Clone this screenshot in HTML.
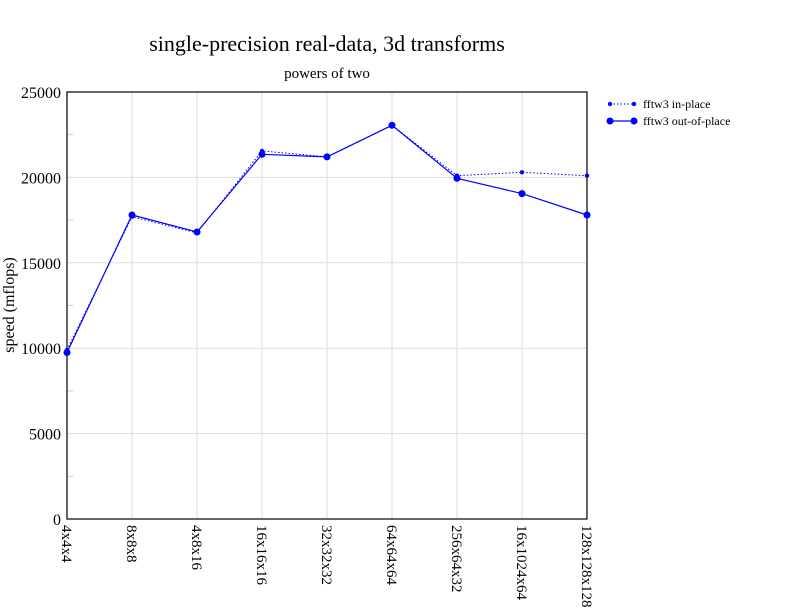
<!DOCTYPE html>
<html><head><style>body{margin:0;background:#fff}svg{display:block}</style></head><body>
<svg width="792" height="612" xmlns="http://www.w3.org/2000/svg" font-family="Liberation Serif, serif">
<rect width="792" height="612" fill="#fff"/>
<text x="327" y="51" font-size="22" text-anchor="middle">single-precision real-data, 3d transforms</text>
<text x="327" y="78" font-size="15" text-anchor="middle">powers of two</text>
<g stroke="#ddd" stroke-width="1">
<line x1="132" y1="92" x2="132" y2="519"/><line x1="197" y1="92" x2="197" y2="519"/><line x1="262" y1="92" x2="262" y2="519"/><line x1="327" y1="92" x2="327" y2="519"/><line x1="392" y1="92" x2="392" y2="519"/><line x1="457" y1="92" x2="457" y2="519"/><line x1="522" y1="92" x2="522" y2="519"/>
<line x1="67" y1="433.6" x2="587" y2="433.6"/><line x1="67" y1="348.2" x2="587" y2="348.2"/><line x1="67" y1="262.8" x2="587" y2="262.8"/><line x1="67" y1="177.4" x2="587" y2="177.4"/>
</g>
<g stroke="#ccc"><line x1="67" y1="476.3" x2="73" y2="476.3"/><line x1="67" y1="390.9" x2="73" y2="390.9"/><line x1="67" y1="305.5" x2="73" y2="305.5"/><line x1="67" y1="220.1" x2="73" y2="220.1"/><line x1="67" y1="134.7" x2="73" y2="134.7"/></g>
<rect x="67" y="92" width="520" height="427" fill="none" stroke="#000" stroke-width="1.2"/>
<g font-size="16" text-anchor="end">
<text x="61" y="525">0</text><text x="61" y="439.6">5000</text><text x="61" y="354.2">10000</text><text x="61" y="268.8">15000</text><text x="61" y="183.4">20000</text><text x="61" y="98">25000</text>
</g>
<text transform="translate(14,305) rotate(-90)" font-size="16" text-anchor="middle">speed (mflops)</text>
<g font-size="15">
<text transform="translate(62,525) rotate(90)">4x4x4</text>
<text transform="translate(127,525) rotate(90)">8x8x8</text>
<text transform="translate(192,525) rotate(90)">4x8x16</text>
<text transform="translate(257,525) rotate(90)">16x16x16</text>
<text transform="translate(322,525) rotate(90)">32x32x32</text>
<text transform="translate(387,525) rotate(90)">64x64x64</text>
<text transform="translate(452,525) rotate(90)">256x64x32</text>
<text transform="translate(517,525) rotate(90)">16x1024x64</text>
<text transform="translate(582,525) rotate(90)">128x128x128</text>
</g>
<polyline fill="none" stroke="#00f" stroke-dasharray="1.5,2" points="67,349.9 132,216.7 197,232.9 262,150.9 327,156.9 392,125.3 457,175.7 522,172.3 587,175.7"/>
<g fill="#00f"><circle cx="67" cy="349.9" r="2.2"/><circle cx="132" cy="216.7" r="2.2"/><circle cx="197" cy="232.9" r="2.2"/><circle cx="262" cy="150.9" r="2.2"/><circle cx="327" cy="156.9" r="2.2"/><circle cx="392" cy="125.3" r="2.2"/><circle cx="457" cy="175.7" r="2.2"/><circle cx="522" cy="172.3" r="2.2"/><circle cx="587" cy="175.7" r="2.2"/></g>
<polyline fill="none" stroke="#00f" stroke-width="1.2" points="67,352.5 132,215 197,232 262,154.3 327,156.9 392,125.3 457,178.3 522,193.6 587,215"/>
<g fill="#00f"><circle cx="67" cy="352.5" r="3.5"/><circle cx="132" cy="215" r="3.5"/><circle cx="197" cy="232" r="3.5"/><circle cx="262" cy="154.3" r="3.5"/><circle cx="327" cy="156.9" r="3.5"/><circle cx="392" cy="125.3" r="3.5"/><circle cx="457" cy="178.3" r="3.5"/><circle cx="522" cy="193.6" r="3.5"/><circle cx="587" cy="215" r="3.5"/></g>
<line x1="610" y1="104" x2="634" y2="104" stroke="#00f" stroke-dasharray="1.5,2"/>
<circle cx="610" cy="104" r="2.2" fill="#00f"/><circle cx="634" cy="104" r="2.2" fill="#00f"/>
<text x="643" y="108" font-size="12">fftw3 in-place</text>
<line x1="610" y1="121" x2="634" y2="121" stroke="#00f" stroke-width="1.2"/>
<circle cx="610" cy="121" r="3.5" fill="#00f"/><circle cx="634" cy="121" r="3.5" fill="#00f"/>
<text x="643" y="125" font-size="12">fftw3 out-of-place</text>
</svg>
</body></html>
